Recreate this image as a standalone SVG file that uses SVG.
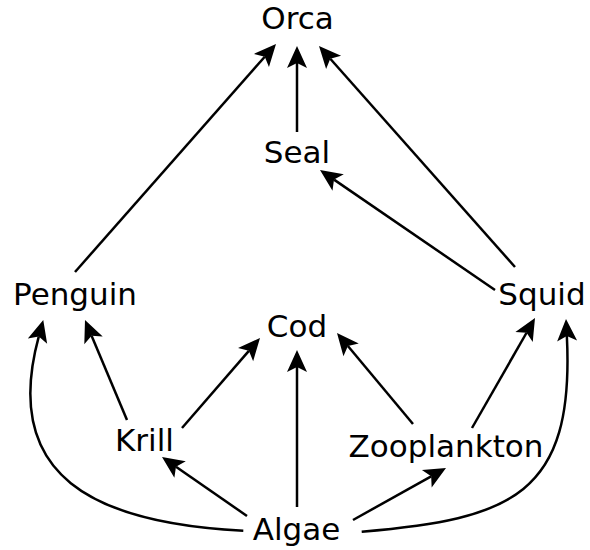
<svg xmlns="http://www.w3.org/2000/svg" width="590" height="550" viewBox="0 0 590 550">
  <style>
    .label { font-family: "DejaVu Sans", "Liberation Sans", sans-serif; font-size: 31px; fill: #000; text-anchor: middle; }
    .edge { fill: none; stroke: #000; stroke-width: 2.5; marker-end: url(#head); }
  </style>
  <defs>
    <!-- notched arrowhead; the path end sits on the notch -->
    <marker id="head" markerUnits="userSpaceOnUse" viewBox="-23 -11 24 22" markerWidth="24" markerHeight="22" refX="-17" refY="0" orient="auto" overflow="visible">
      <path d="M0,0 L-22,-10 L-17,0 L-22,10 Z" fill="#000"/>
    </marker>
  </defs>

  <rect width="590" height="550" fill="#fff"/>

  <g id="connectors">
    <path class="edge" d="M75,272 L264.76,56.75"/>
    <path class="edge" d="M297,132 L297,63"/>
    <path class="edge" d="M515,267 L330.28,58.72"/>
    <path class="edge" d="M495,290 L334.02,179.61"/>
    <path class="edge" d="M127,420 L91.58,335.67"/>
    <path class="edge" d="M182,428 L248.87,350.85"/>
    <path class="edge" d="M297,507 L297,367"/>
    <path class="edge" d="M413,424 L347.9,346.05"/>
    <path class="edge" d="M472,428 L526.55,332.75"/>
    <path class="edge" d="M247,516 L175.97,466.69"/>
    <path class="edge" d="M353,520 L431.16,476.3"/>
    <path class="edge" d="M243.3,530.7 C94,523.2 0.7,476.3 38.8,336.4"/>
    <path class="edge" d="M361.7,531.7 C511.1,518.95 574.85,495.8 566.85,336"/>
  </g>

  <g id="orca"><text class="label" x="297.5" y="29">Orca</text></g>
  <g id="seal"><text class="label" x="297" y="163">Seal</text></g>
  <g id="penguin"><text class="label" x="75" y="305">Penguin</text></g>
  <g id="squid"><text class="label" x="542" y="305">Squid</text></g>
  <g id="cod"><text class="label" x="297" y="337">Cod</text></g>
  <g id="krill"><text class="label" x="144.5" y="451">Krill</text></g>
  <g id="zooplankton"><text class="label" x="446" y="457">Zooplankton</text></g>
  <g id="algae"><text class="label" x="296.5" y="540">Algae</text></g>
</svg>
